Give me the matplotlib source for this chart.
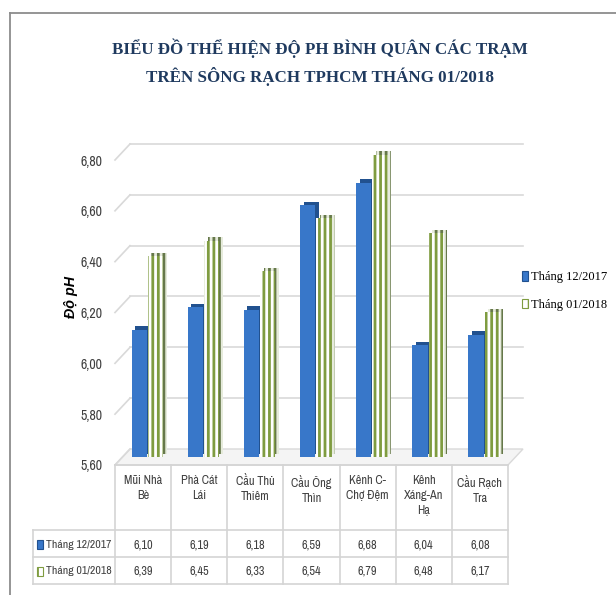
import os
import numpy as np
import matplotlib
matplotlib.use("Agg")
import matplotlib.pyplot as plt
from matplotlib import transforms as mtransforms
from matplotlib import font_manager as fm
from matplotlib.font_manager import FontProperties
from matplotlib.patches import Polygon, Rectangle, Patch
from matplotlib.lines import Line2D

# ---------------- data ----------------
categories = ["Mũi Nhà\nBè", "Phà Cát\nLái", "Cầu Thủ\nThiêm", "Cầu Ông\nThìn",
              "Kênh C-\nChợ Đệm", "Kênh\nXáng-An\nHạ", "Cầu Rạch\nTra"]
series_names = ["Tháng 12/2017", "Tháng 01/2018"]
dec2017 = [6.10, 6.19, 6.18, 6.59, 6.68, 6.04, 6.08]
jan2018 = [6.39, 6.45, 6.33, 6.54, 6.79, 6.48, 6.17]
yticks = [5.60, 5.80, 6.00, 6.20, 6.40, 6.60, 6.80]
title_lines = ["BIỂU ĐỒ THỂ HIỆN ĐỘ PH BÌNH QUÂN CÁC TRẠM",
               "TRÊN SÔNG RẠCH TPHCM THÁNG 01/2018"]
ylabel = "Độ pH"


def fmt(v):
    return f"{v:.2f}".replace(".", ",")


# ---------------- fonts ----------------
FILES = {os.path.basename(f.fname).lower(): f.fname for f in fm.fontManager.ttflist}


def pick(basenames, fallback_family, **kw):
    for b in basenames:
        if b.lower() in FILES:
            return FontProperties(fname=FILES[b.lower()])
    return FontProperties(family=fallback_family, **kw)


def pick_narrow_sans():
    bad = ("bold", "italic", "oblique", "serif", "mono", "light", "thin", "black",
           "medium", "semi", "extra", "cjk")
    for b in sorted(FILES):
        if ("condensed" in b or "narrow" in b) and not any(k in b for k in bad):
            return FontProperties(fname=FILES[b])
    return pick(["Roboto-Regular.ttf", "LiberationSans-Regular.ttf"], "DejaVu Sans")


serif_bold = pick(["LiberationSerif-Bold.ttf"], "DejaVu Serif", weight="bold")
serif_reg = pick(["LiberationSerif-Regular.ttf"], "DejaVu Serif")
sans_narrow = pick_narrow_sans()
sans_bi = pick(["LiberationSans-BoldItalic.ttf", "DejaVuSans-BoldOblique.ttf"], "DejaVu Sans",
               weight="bold", style="italic")


def fp(base, size):
    p = base.copy()
    p.set_size(size)
    return p


W, H = 616, 595
fig = plt.figure(figsize=(W / 100, H / 100), dpi=100)
renderer = fig.canvas.get_renderer()


def fx(px):
    return px / W


def fy(py):
    return 1 - py / H


def measure(s, prop):
    t = fig.text(0, 0, s, fontproperties=prop)
    w = t.get_window_extent(renderer).width
    t.remove()
    return w


def fitted(s, base, target_px, start=10):
    w = measure(s, fp(base, start))
    return fp(base, start * target_px / w)


# ---------------- outer frame ----------------
frame_c = "#8c8c8c"
fig.add_artist(Line2D([fx(10), fx(10)], [fy(13), 0], transform=fig.transFigure, color=frame_c, lw=1.3))
fig.add_artist(Line2D([fx(10), 1], [fy(13), fy(13)], transform=fig.transFigure, color=frame_c, lw=1.3))

# ---------------- title ----------------
title_c = "#1f3a5f"
tprop = fitted(title_lines[0], serif_bold, 414)
fig.text(fx(320), fy(48), title_lines[0], fontproperties=tprop, color=title_c, ha="center", va="center")
fig.text(fx(320), fy(77), title_lines[1], fontproperties=tprop, color=title_c, ha="center", va="center")

# ---------------- axes ----------------
ax = fig.add_axes([fx(115), fy(465), (508 - 115) / W, (465 - 160) / H])
ax.set_xlim(-0.5, len(categories) - 0.5)
ax.set_ylim(yticks[0], yticks[-1])
ax.patch.set_visible(False)
for s in ax.spines.values():
    s.set_visible(False)
ax.set_xticks([])
ax.set_yticks(yticks)
ax.set_yticklabels([fmt(v) for v in yticks], fontproperties=fitted("6,80", sans_narrow, 22),
                   color="#404040")
ax.tick_params(axis="y", length=0, pad=9)

# depth offsets (data units) for 3D look
p0 = ax.transData.transform((0, yticks[0]))
back = ax.transData.inverted().transform(p0 + np.array([15, 16])) - np.array([0, yticks[0]])
ddx, ddy = back
x0, x1 = -0.5, len(categories) - 0.5
grid_c = "#d9d9d9"

# floor
floor = Polygon([(x0, yticks[0]), (x1, yticks[0]), (x1 + ddx, yticks[0] + ddy), (x0 + ddx, yticks[0] + ddy)],
                closed=True, facecolor="#f4f4f4", edgecolor=grid_c, lw=1, clip_on=False, zorder=0.5)
ax.add_patch(floor)
# back wall gridlines and left wall diagonals
for v in yticks:
    if v != yticks[0]:
        ax.plot([x0 + ddx, x1 + ddx], [v + ddy, v + ddy], color=grid_c, lw=1.2, clip_on=False, zorder=0.6)
    ax.plot([x0, x0 + ddx], [v, v + ddy], color=grid_c, lw=1.2, clip_on=False, zorder=0.6)

# ---------------- bars ----------------
plt.rcParams["hatch.linewidth"] = 2.0
xpos = np.arange(len(categories))
bw = 0.27
off_front = mtransforms.ScaledTranslation(4 / 100, 8 / 100, fig.dpi_scale_trans)
off_back = mtransforms.ScaledTranslation(7.5 / 100, 11.5 / 100, fig.dpi_scale_trans)

blue_f, blue_b = "#3877c9", "#21518f"
green_e, green_side = "#7f9c40", "#66784a"


def draw_bars(xs, vals, front_kw, back_kw, z):
    heights = np.array(vals) - yticks[0]
    bb = ax.bar(xs, heights, bottom=yticks[0], width=bw, zorder=z, **back_kw)
    for r in bb:
        r.set_transform(ax.transData + off_back)
        r.set_clip_on(False)
    bf = ax.bar(xs, heights, bottom=yticks[0], width=bw, zorder=z + 0.1, **front_kw)
    for r in bf:
        r.set_transform(ax.transData + off_front)
        r.set_clip_on(False)
    return bf


draw_bars(xpos - 0.14, dec2017,
          dict(color=blue_f, linewidth=0),
          dict(color=blue_b, linewidth=0), 2)
draw_bars(xpos + 0.15, jan2018,
          dict(facecolor="white", edgecolor=green_e, hatch="|||", linewidth=0),
          dict(facecolor="#e6ebdc", edgecolor=green_side, hatch="|||", linewidth=0), 3)

# y label
fig.text(fx(71), fy(297), ylabel, rotation=90, ha="center", va="center",
         fontproperties=fitted(ylabel, sans_bi, 42), color="#000000")

# ---------------- legend ----------------
handles = [Patch(facecolor=blue_f, edgecolor=blue_b, linewidth=0.8),
           Patch(facecolor="white", edgecolor=green_e, hatch="||", linewidth=0.8)]
leg = fig.legend(handles=handles, labels=series_names, loc="center left",
                 bbox_to_anchor=(fx(522), fy(291)), frameon=False,
                 handlelength=0.5, handleheight=0.8, handletextpad=0.25, labelspacing=1.25,
                 borderaxespad=0, borderpad=0,
                 prop=fitted(series_names[0], serif_reg, 76))

# ---------------- data table ----------------
tbl_c = "#d4d4d4"
tx = mtransforms.blended_transform_factory(ax.transData, fig.transFigure)
row_tops = [465, 530, 557, 584]
left_px = 33

# horizontal lines
fig.add_artist(Line2D([x0, x1], [fy(row_tops[0])] * 2, transform=tx, color=tbl_c, lw=1.2))
for yy in row_tops[1:]:
    fig.add_artist(Line2D([fx(left_px), fx(508)], [fy(yy)] * 2, transform=fig.transFigure, color=tbl_c, lw=1.2))
# vertical lines
for e in np.arange(len(categories) + 1) - 0.5:
    fig.add_artist(Line2D([e, e], [fy(row_tops[0]), fy(row_tops[-1])], transform=tx, color=tbl_c, lw=1.2))
fig.add_artist(Line2D([fx(left_px)] * 2, [fy(row_tops[1]), fy(row_tops[-1])], transform=fig.transFigure,
                      color=tbl_c, lw=1.2))

cell_prop = fitted("6,10", sans_narrow, 19.5)
row_prop = fitted(series_names[0], sans_narrow, 65)
for i, c in enumerate(categories):
    fig.text(i, fy(475), c, transform=tx, ha="center", va="top", fontproperties=cell_prop,
             color="#404040", linespacing=1.45)
for r, vals in enumerate([dec2017, jan2018]):
    yc = fy((row_tops[r + 1] + row_tops[r + 2]) / 2 + 1)
    for i, v in enumerate(vals):
        fig.text(i, yc, fmt(v), transform=tx, ha="center", va="center", fontproperties=cell_prop, color="#404040")
    fig.text(fx(46), yc, series_names[r], ha="left", va="center", fontproperties=row_prop, color="#404040")
    key = Rectangle((fx(37), yc - 4.5 / H), 6 / W, 9 / H, transform=fig.transFigure,
                    facecolor=blue_f if r == 0 else "white",
                    edgecolor=blue_b if r == 0 else green_e,
                    hatch=None if r == 0 else "||", linewidth=0.8)
    fig.add_artist(key)

fig.savefig("out.png", dpi=100)
